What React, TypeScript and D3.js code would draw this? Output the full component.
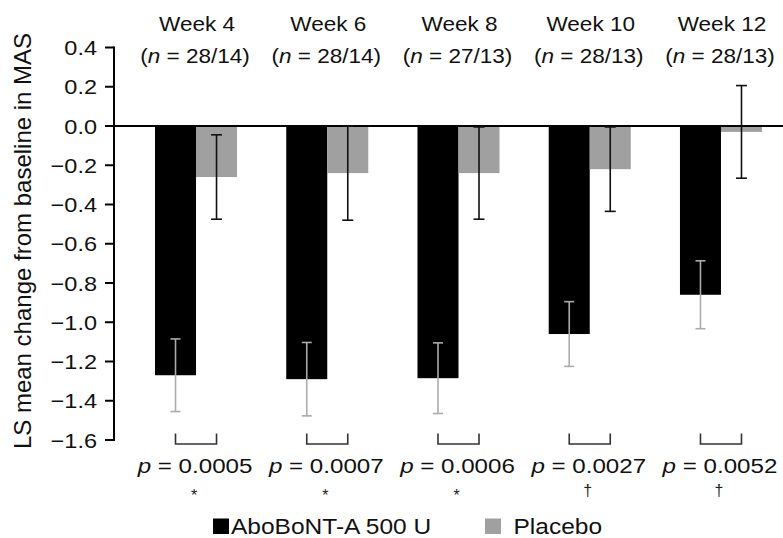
import React from 'react';
import * as d3 from 'd3';

const weeks = ['Week 4', 'Week 6', 'Week 8', 'Week 10', 'Week 12'];
const nLabels = ['28/14', '28/14', '27/13', '28/13', '28/13'];
const aboMeans = [-1.27, -1.29, -1.285, -1.06, -0.86];
const aboErr = [0.185, 0.187, 0.18, 0.165, 0.173];
const placeboMeans = [-0.26, -0.24, -0.24, -0.22, -0.03];
const placeboErr = [0.215, 0.24, 0.235, 0.215, 0.236];
const pValues = ['0.0005', '0.0007', '0.0006', '0.0027', '0.0052'];
const sigMarks = ['*', '*', '*', '\u2020', '\u2020'];
const seriesKeys = ['abo', 'placebo'];
const seriesLabels = ['AboBoNT-A 500 U', 'Placebo'];

const W = 783;
const H = 538;
const FONT = 'Liberation Sans, Arial, Helvetica, sans-serif';
const BLACK = '#000000';
const GRAY = '#a0a0a0';
const ERR_GRAY = '#ababab';

function SText(props: any) {
  const { x, y, sx = 1.12, size, anchor = 'start', children, fill = '#111' } = props;
  return (
    <text
      transform={`translate(${x},${y}) scale(${sx},1)`}
      fontSize={size}
      textAnchor={anchor}
      fontFamily={FONT}
      fill={fill}
    >
      {children}
    </text>
  );
}

export default function App() {
  const y = d3.scaleLinear().domain([-1.6, 0.4]).range([440, 47.5]);
  const x0 = d3
    .scaleBand<string>()
    .domain(weeks)
    .range([130.4, 786.6])
    .paddingInner(0.375)
    .paddingOuter(0.1875);
  const x1 = d3.scaleBand<string>().domain(seriesKeys).range([0, x0.bandwidth()]);
  const axisX = 114;
  const ticks = y.ticks(10);
  const fmt = d3.format('.1f');
  const bw = x1.bandwidth();

  return (
    <svg
      width={W}
      height={H}
      style={{ position: 'absolute', left: 0, top: 0, background: '#fff' }}
    >
      <rect x={0} y={0} width={W} height={H} fill="#fff" />
      {/* y axis label */}
      <text
        transform={`translate(31,${(32 + 450) / 2}) rotate(-90)`}
        textAnchor="middle"
        fontSize={24}
        fontFamily={FONT}
        fill="#111"
      >
        LS mean change from baseline in MAS
      </text>

      {/* bars */}
      {weeks.map((w, i) => {
        const gx = x0(w) as number;
        const ax = gx + (x1('abo') as number);
        const px = gx + (x1('placebo') as number);
        return (
          <g key={w}>
            <rect x={ax} y={y(0)} width={bw} height={y(aboMeans[i]) - y(0)} fill={BLACK} />
            <rect x={px} y={y(0)} width={bw} height={y(placeboMeans[i]) - y(0)} fill={GRAY} />
          </g>
        );
      })}

      {/* zero line */}
      <line x1={axisX} x2={W} y1={y(0)} y2={y(0)} stroke="#000" strokeWidth={2} />

      {/* error bars */}
      {weeks.map((w, i) => {
        const gx = x0(w) as number;
        const ac = gx + (x1('abo') as number) + bw / 2;
        const pc = gx + (x1('placebo') as number) + bw / 2;
        const aT = y(aboMeans[i] + aboErr[i]);
        const aB = y(aboMeans[i] - aboErr[i]);
        const pT = y(placeboMeans[i] + placeboErr[i]);
        const pB = y(placeboMeans[i] - placeboErr[i]);
        return (
          <g key={'e' + w}>
            <g stroke={ERR_GRAY} strokeWidth={1.6}>
              <line x1={ac} x2={ac} y1={aT} y2={aB} />
              <line x1={ac - 5} x2={ac + 5} y1={aT} y2={aT} />
              <line x1={ac - 5} x2={ac + 5} y1={aB} y2={aB} />
            </g>
            <g stroke="#111" strokeWidth={1.6}>
              <line x1={pc} x2={pc} y1={pT} y2={pB} />
              <line x1={pc - 5.5} x2={pc + 5.5} y1={pT} y2={pT} />
              <line x1={pc - 5.5} x2={pc + 5.5} y1={pB} y2={pB} />
            </g>
            <path
              d={`M${ac},433.5 V444 H${pc} V433.5`}
              fill="none"
              stroke="#333"
              strokeWidth={1.6}
            />
          </g>
        );
      })}

      {/* y axis */}
      <line x1={axisX} x2={axisX} y1={y(0.4) - 1} y2={y(-1.6) + 1} stroke="#000" strokeWidth={2} />
      {ticks.map((t) => (
        <g key={'t' + t}>
          <line x1={105} x2={axisX} y1={y(t)} y2={y(t)} stroke="#000" strokeWidth={2} />
          <SText x={97} y={y(t) + 7.5} size={21} anchor="end" sx={1.12}>
            {fmt(t)}
          </SText>
        </g>
      ))}

      {/* headers */}
      {weeks.map((w, i) => {
        const c = (x0(w) as number) + x0.bandwidth() / 2;
        return (
          <g key={'h' + w}>
            <SText x={c + 1} y={31} size={20.5} anchor="middle" sx={1.1}>
              {w}
            </SText>
            <SText x={c - 1} y={63} size={20.5} anchor="middle" sx={1.1}>
              (<tspan fontStyle="italic">n</tspan> = {nLabels[i]})
            </SText>
          </g>
        );
      })}

      {/* p values */}
      {weeks.map((w, i) => {
        const c = (x0(w) as number) + x0.bandwidth() / 2;
        const mark = sigMarks[i];
        return (
          <g key={'p' + w}>
            <SText x={c - 1} y={472.5} size={21} anchor="middle" sx={1.15}>
              <tspan fontStyle="italic">p</tspan> = {pValues[i]}
            </SText>
            <SText x={c - 2} y={mark === '*' ? 501 : 495.5} size={16} anchor="middle" sx={1} fill="#222">
              {mark}
            </SText>
          </g>
        );
      })}

      {/* legend */}
      <rect x={213} y={518.5} width={16} height={15.5} fill={BLACK} />
      <SText x={231} y={533.5} size={21.5} sx={1.14}>
        {seriesLabels[0]}
      </SText>
      <rect x={485} y={518.5} width={16} height={15.5} fill={GRAY} />
      <SText x={513.5} y={533.5} size={21.5} sx={1.14}>
        {seriesLabels[1]}
      </SText>
    </svg>
  );
}
